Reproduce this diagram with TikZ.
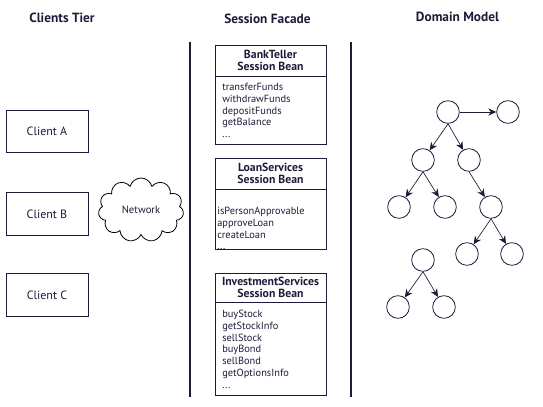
\documentclass[tikz,border=0pt]{standalone}
\usepackage{fontspec}
\setmainfont{PT Sans}
\usetikzlibrary{arrows.meta,positioning,shapes.symbols}
\definecolor{ink}{RGB}{28,28,58}
\tikzset{
  heading/.style={font=\bfseries\fontsize{10}{12}\selectfont, text=ink},
  client/.style={draw=ink, line width=0.6pt, minimum width=61.5pt, minimum height=32pt,
    font=\fontsize{9}{10}\selectfont, text=ink},
  beantitle/.style={draw=ink, line width=0.75pt, minimum width=83.25pt, outer sep=0pt,
    inner sep=0pt, align=center, font=\bfseries\fontsize{8.8}{9}\selectfont, text=ink},
  beanbody/.style={draw=ink, line width=0.75pt, minimum width=83.25pt, outer sep=0pt, inner sep=0pt},
  methods/.style={align=left, inner sep=0pt, font=\fontsize{7.8}{8.8}\selectfont, text=ink},
  obj/.style={draw=ink, circle, minimum size=17pt, inner sep=0pt, line width=0.6pt},
  dep/.style={draw=ink, line width=0.5pt, -{Stealth[length=6pt,width=5.5pt]}},
  tier/.style={draw=ink, line width=1.5pt}
}
\begin{document}
\begin{tikzpicture}[x=0.75pt, y=-0.75pt]
  \useasboundingbox (0,0) rectangle (543,407);
  % column headings
  \node[heading] (hc) at (62,17.5) {Clients Tier};
  \node[heading] (hs) at (267.5,19) {Session Facade};
  \node[heading] (hd) at (457.5,17) {Domain Model};
  % tier separators
  \draw[tier] (190,42) -- (190,397);
  \draw[tier] (351,42) -- (351,397);
  % clients
  \node[client] (ca) at (47,131.5) {Client A};
  \node[client] (cb) at (47,214) {Client B};
  \node[client] (cc) at (47,295) {Client C};
  \node[cloud, cloud puffs=11, aspect=1.4, draw, line width=0.6pt, minimum width=64pt,
    minimum height=48pt, inner sep=0pt, font=\fontsize{8}{9}\selectfont, text=ink] (net) at (141,210) {Network};
  % session beans
  \node[beantitle, minimum height=23.25pt] (bt) at (270.5,60.5) {BankTeller\\Session Bean};
  \node[beanbody, minimum height=51pt, below=0pt of bt] (btb) {};
  \node[methods, anchor=north west] (btm) at (222,83)
    {transferFunds\\withdrawFunds\\depositFunds\\getBalance\\...};
  \node[beantitle, minimum height=23.25pt] (ls) at (270.5,173.5) {LoanServices\\Session Bean};
  \node[beanbody, minimum height=45pt, below=0pt of ls] (lsb) {};
  \node[methods, anchor=north west] (lsm) at (217,207)
    {isPersonApprovable\\approveLoan\\createLoan\\...};
  \node[beantitle, minimum height=21.75pt] (is) at (270.5,287.5) {InvestmentServices\\Session Bean};
  \node[beanbody, minimum height=69.75pt, below=0pt of is] (isb) {};
  \node[methods, anchor=north west] (ism) at (222,310)
    {buyStock\\getStockInfo\\sellStock\\buyBond\\sellBond\\getOptionsInfo\\...};
  % domain model
  \foreach \n/\x/\y in {1/448/112, 2/508/112, 3/423/160, 4/469/160, 5/399/207,
      6/445/207, 7/491/207, 8/467/254, 9/512/254}
    \node[obj] (a\n) at (\x,\y) {};
  \foreach \n/\x/\y in {1/423/260, 2/398/307, 3/444/307}
    \node[obj] (b\n) at (\x,\y) {};
  \draw[dep] (a1) -- (a2);
  \foreach \p/\c in {1/3, 1/4, 3/5, 3/6, 4/7, 7/8, 7/9}
    \draw[dep] (a\p.south) -- (a\c);
  \foreach \c in {2,3}
    \draw[dep] (b1.south) -- (b\c);
\end{tikzpicture}
\end{document}
